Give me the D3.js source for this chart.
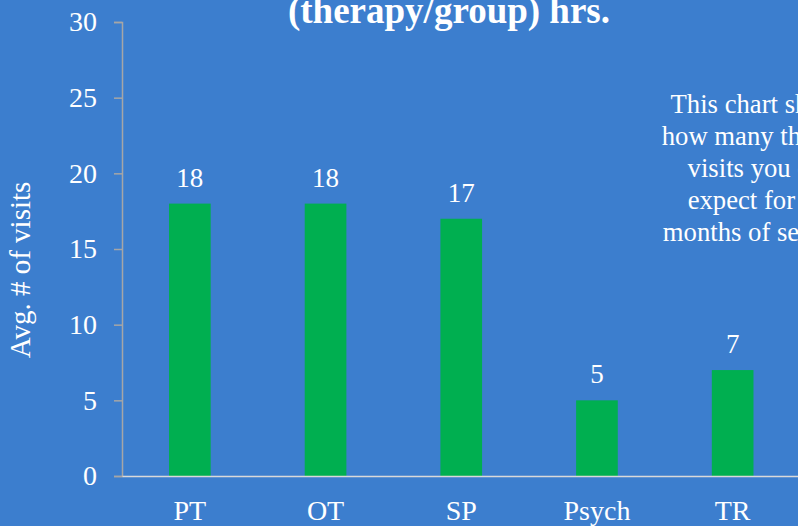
<!DOCTYPE html>
<html><head><meta charset="utf-8">
<script src="https://cdn.jsdelivr.net/npm/d3@7"></script>
<style>
html,body{margin:0;padding:0;background:#3C7ECE;overflow:hidden;}
svg{display:block;}
text{font-family:"Liberation Serif","Times New Roman",serif;fill:#fff;}
</style></head>
<body>
<svg id="c" width="798" height="526"></svg>
<script>
const categories = ["PT", "OT", "SP", "Psych", "TR"];
const visits = [18, 18, 17, 5, 7];
const yTicks = [0, 5, 10, 15, 20, 25, 30];
const titleText = "(therapy/group) hrs.";
const yLabel = "Avg. # of visits";
const noteLines = ["This chart shows", "how many therapy", "visits you can", "expect for the", "months of service."];

const W = 798, H = 526;
const svg = d3.select("#c");
svg.append("rect").attr("width", W).attr("height", H).attr("fill", "#3C7ECE");

const x = d3.scaleBand().domain(categories).range([122, 800.5]).paddingInner(0.693).paddingOuter(0.3465);
const y = d3.scaleLinear().domain([0, 30]).range([476, 22]);

// bars
svg.selectAll("rect.bar").data(categories).enter().append("rect")
  .attr("class", "bar")
  .attr("x", d => x(d))
  .attr("width", x.bandwidth())
  .attr("y", (d, i) => y(visits[i]))
  .attr("height", (d, i) => y(0) - y(visits[i]))
  .attr("fill", "#00AF50");

// value labels
svg.selectAll("text.val").data(categories).enter().append("text")
  .attr("class", "val")
  .attr("x", d => x(d) + x.bandwidth() / 2)
  .attr("y", (d, i) => y(visits[i]) - 17)
  .attr("text-anchor", "middle")
  .attr("font-size", "27px")
  .text((d, i) => visits[i]);

// y axis
const yAxis = svg.append("g").attr("transform", "translate(122,0)")
  .call(d3.axisLeft(y).tickValues(yTicks).tickSize(8).tickPadding(17));
yAxis.select(".domain").attr("stroke", "#A6A6A6").attr("stroke-width", 1.5);
yAxis.selectAll(".tick line").attr("stroke", "#A6A6A6").attr("stroke-width", 1.5);
yAxis.selectAll(".tick text").attr("font-size", "28px").attr("fill", "#fff")
  .attr("font-family", "Liberation Serif, serif");

// x axis
const xAxis = svg.append("g").attr("transform", "translate(0,476)")
  .call(d3.axisBottom(x).tickSize(0).tickPadding(24));
xAxis.select(".domain").attr("stroke", "#D9D9D9").attr("stroke-width", 1.5);
xAxis.selectAll(".tick text").attr("font-size", "28px").attr("fill", "#fff")
  .attr("font-family", "Liberation Serif, serif");

// y label
svg.append("text")
  .attr("transform", "translate(29.5,270) rotate(-90)")
  .attr("text-anchor", "middle")
  .attr("font-size", "29px")
  .text(yLabel);

// title (second line visible)
svg.append("text")
  .attr("x", 449).attr("y", 23)
  .attr("text-anchor", "middle")
  .attr("font-size", "37px")
  .attr("font-weight", "bold")
  .text(titleText);

// note
svg.append("g").selectAll("text").data(noteLines).enter().append("text")
  .attr("x", 761)
  .attr("y", (d, i) => 113 + i * 32)
  .attr("text-anchor", "middle")
  .attr("font-size", "26.7px")
  .text(d => d);
</script>
</body></html>
